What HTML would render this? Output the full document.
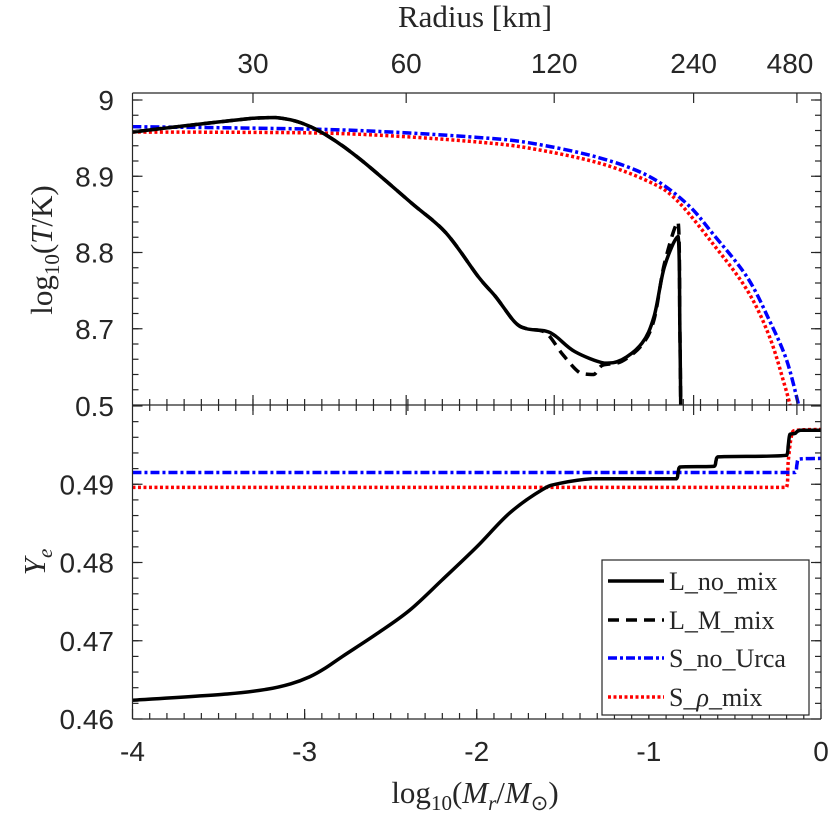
<!DOCTYPE html>
<html><head><meta charset="utf-8"><style>
body{margin:0;background:#fff}
svg{display:block}
.tk{font-family:"Liberation Sans",sans-serif;font-size:28px;fill:#262626}
.sf{font-family:"Liberation Serif",serif;fill:#262626}
</style></head><body>
<svg id="chart" width="830" height="814" xmlns="http://www.w3.org/2000/svg">
<g id="g-top"></g>
<g id="g-bot"></g>
<g id="g-axes"></g>
<text class="sf" x="475" y="27" font-size="31" text-anchor="middle">Radius [km]</text>
<text class="sf" x="475" y="803" font-size="31" text-anchor="middle">log<tspan font-size="21" dy="7">10</tspan><tspan dy="-7">(</tspan><tspan font-style="italic">M</tspan><tspan font-style="italic" font-size="21" dy="7">r</tspan><tspan dy="-7">/</tspan><tspan font-style="italic">M</tspan><tspan font-size="21" dy="7">⊙</tspan><tspan dy="-7">)</tspan></text>
<text class="sf" transform="translate(52,250) rotate(-90)" font-size="31" text-anchor="middle">log<tspan font-size="21" dy="7">10</tspan><tspan dy="-7">(</tspan><tspan font-style="italic">T</tspan><tspan>/K)</tspan></text>
<text class="sf" transform="translate(45,562) rotate(-90)" font-size="31" text-anchor="middle"><tspan font-style="italic">Y</tspan><tspan font-style="italic" font-size="21" dy="7">e</tspan></text>
<g>
<rect x="602" y="560" width="207" height="155" fill="#fff" stroke="#262626" stroke-width="1.2"/>
<g><line x1="608" y1="581" x2="664" y2="581" stroke="#000" stroke-width="3.5"/><text class="sf" x="669" y="590" font-size="26">L_no_mix</text></g>
<g><line x1="608" y1="620" x2="664" y2="620" stroke="#000" stroke-width="3.5" stroke-dasharray="11,7"/><text class="sf" x="669" y="629" font-size="26">L_M_mix</text></g>
<g><line x1="608" y1="658" x2="664" y2="658" stroke="#00f" stroke-width="3.5" stroke-dasharray="9,3,3,3"/><text class="sf" x="669" y="667" font-size="26">S_no_Urca</text></g>
<g><line x1="608" y1="697" x2="664" y2="697" stroke="#f00" stroke-width="3.5" stroke-dasharray="3,2.5"/><text class="sf" x="669" y="706" font-size="26">S_<tspan font-style="italic">ρ</tspan>_mix</text></g>
</g>
</svg>
<script>
const tLnoX=[-4,-3.74,-3.3,-3.17,-3.02,-2.86,-2.67,-2.38,-2.18,-1.99,-1.89,-1.78,-1.71,-1.6,-1.54,-1.43,-1.26,-1.16,-1.04,-0.97,-0.91,-0.83,-0.82,-0.815];
const tLnoY=[8.958,8.965,8.976,8.977,8.970,8.952,8.921,8.865,8.826,8.768,8.742,8.709,8.700,8.697,8.69,8.67,8.655,8.659,8.681,8.716,8.781,8.821,8.70,8.60];
const tLmX=[-4,-3.74,-3.3,-3.17,-3.02,-2.86,-2.67,-2.38,-2.18,-1.99,-1.89,-1.78,-1.71,-1.6,-1.5,-1.4,-1.32,-1.27,-1.16,-1.04,-0.97,-0.91,-0.83,-0.82,-0.815];
const tLmY=[8.958,8.965,8.976,8.977,8.970,8.952,8.921,8.865,8.826,8.768,8.742,8.709,8.700,8.695,8.666,8.642,8.640,8.652,8.657,8.679,8.712,8.785,8.840,8.70,8.60];
const tSuX=[-4,-3,-2.5,-2,-1.7,-1.3,-1.0,-0.78,-0.63,-0.43,-0.3,-0.2,-0.13];
const tSuY=[8.965,8.962,8.958,8.951,8.944,8.925,8.900,8.864,8.825,8.768,8.711,8.659,8.60];
const tSrX=[-4,-3,-2.5,-2,-1.7,-1.3,-1.0,-0.84,-0.63,-0.43,-0.3,-0.21,-0.18];
const tSrY=[8.958,8.957,8.953,8.945,8.937,8.918,8.893,8.869,8.812,8.751,8.69,8.625,8.60];
const yeLX=[-4,-3.45,-3.22,-3.08,-2.97,-2.88,-2.78,-2.58,-2.39,-2.2,-2.0,-1.81,-1.62,-1.52,-1.33,-1.1,-0.84,-0.83,-0.82,-0.62,-0.61,-0.6,-0.2,-0.19,-0.18,-0.15,-0.12,0];
const yeLY=[0.4624,0.4632,0.4638,0.4645,0.4654,0.4665,0.4680,0.4709,0.4739,0.4778,0.4820,0.4863,0.4893,0.4901,0.4907,0.4907,0.4907,0.4915,0.4922,0.4923,0.4930,0.4935,0.4937,0.4950,0.4964,0.4965,0.4969,0.4969];
const yeSuX=[-4,-0.15,-0.14,-0.13,0];
const yeSuY=[0.4915,0.4915,0.4925,0.4932,0.4933];
const yeSrX=[-4,-0.2,-0.19,-0.17,-0.14,0];
const yeSrY=[0.4896,0.4896,0.4930,0.4963,0.4969,0.4970];
const xTicks=[-4,-3,-2,-1,0];
const tTicks=[9,8.9,8.8,8.7];
const yeTicks=[0.5,0.49,0.48,0.47,0.46];
const rTicks=[30,60,120,240,480];
const rTickX=[-3.3,-2.41,-1.55,-0.74,-0.14];

const L=132.5,R=821,T0=93,MID=405,B=719;
const sx=v=>L+(v+4)*(R-L)/4;
const sT=v=>100+(9-v)*762.5;
const sY=v=>406+(0.5-v)*7825;
const NS='http://www.w3.org/2000/svg';
function mk(tag,parent){const e=document.createElementNS(NS,tag);document.getElementById(parent).appendChild(e);return e;}
function smoothPath(pts){
  let d='M'+pts[0][0]+','+pts[0][1];
  const cl=(v,a,b)=>Math.min(Math.max(a,b),Math.max(Math.min(a,b),v));
  for(let i=0;i<pts.length-1;i++){
    const p0=pts[Math.max(0,i-1)],p1=pts[i],p2=pts[i+1],p3=pts[Math.min(pts.length-1,i+2)];
    let c1x=p1[0]+(p2[0]-p0[0])/6,c1y=p1[1]+(p2[1]-p0[1])/6;
    let c2x=p2[0]-(p3[0]-p1[0])/6,c2y=p2[1]-(p3[1]-p1[1])/6;
    c1x=cl(c1x,p1[0],p2[0]);c2x=cl(c2x,p1[0],p2[0]);
    c1y=cl(c1y,p1[1],p2[1]);c2y=cl(c2y,p1[1],p2[1]);
    d+=' C'+c1x+','+c1y+' '+c2x+','+c2y+' '+p2[0]+','+p2[1];
  }
  return d;
}
function line(xs,ys,sy,parent,color,dash,name,clipTop,clipBot){
  const p=mk('path',parent);
  
  
  const pts=xs.map((x,i)=>[sx(x),Math.min(clipBot,Math.max(clipTop,sy(ys[i])))]);
  p.setAttribute('d',smoothPath(pts));
  p.setAttribute('fill','none');p.setAttribute('stroke',color);p.setAttribute('stroke-width','3.5');
  p.setAttribute('stroke-linejoin','round');
  if(dash)p.setAttribute('stroke-dasharray',dash);
}
line(tSrX,tSrY,sT,'g-top','#f00','3,2.5','series-s-rho-mix-temp',T0,MID);
line(tSuX,tSuY,sT,'g-top','#00f','9,3,3,3','series-s-no-urca-temp',T0,MID);
line(tLmX,tLmY,sT,'g-top','#000','11,7','series-l-m-mix-temp',T0,MID);
line(tLnoX,tLnoY,sT,'g-top','#000',null,'series-l-no-mix-temp',T0,MID);
line(yeSrX,yeSrY,sY,'g-bot','#f00','3,2.5','series-s-rho-mix-ye',MID,B);
line(yeSuX,yeSuY,sY,'g-bot','#00f','9,3,3,3','series-s-no-urca-ye',MID,B);
line(yeLX,yeLY,sY,'g-bot','#000',null,'series-l-no-mix-ye',MID,B);

function seg(x1,y1,x2,y2,name){const l=mk('line','g-axes');
  
  
  l.setAttribute('x1',x1);l.setAttribute('y1',y1);l.setAttribute('x2',x2);l.setAttribute('y2',y2);
  l.setAttribute('stroke','#262626');l.setAttribute('stroke-width','1.2');}
function txt(x,y,s,anchor,name){const t=mk('text','g-axes');
  
  
  t.setAttribute('class','tk');t.setAttribute('x',x);t.setAttribute('y',y);t.setAttribute('text-anchor',anchor);t.textContent=s;}
seg(L,T0,R,T0,'top-panel-top-edge');seg(L,MID,R,MID,'panel-divider');seg(L,B,R,B,'x-axis-line');
seg(L,T0,L,B,'left-axis-line');seg(R,T0,R,B,'right-axis-line');
for(let i=1;i<40;i++){const x=sx(-4+i*0.1);
  seg(x,B,x,B-6,'x-minor-tick');seg(x,MID,x,MID-6,'x-minor-tick');seg(x,MID,x,MID+6,'x-minor-tick');}
xTicks.forEach(v=>{const x=sx(v);seg(x,B,x,B-10,'x-major-tick');txt(x,761,String(v),'middle','x-tick-label');});
rTicks.forEach((r,i)=>{const x=sx(rTickX[i]);seg(x,T0,x,T0+10,'radius-tick');seg(x,MID,x,MID+10,'radius-tick');seg(x,MID,x,MID-10,'radius-tick');
  txt(Math.min(x,790),73,String(r),'middle','radius-tick-label');});
for(let v=8.62;v<9.03;v+=0.02){const y=sT(v);if(y<T0)continue;seg(L,y,L+6,y,'y-minor-tick');seg(R,y,R-6,y,'y-minor-tick');}
tTicks.forEach(v=>{const y=sT(v);seg(L,y,L+10,y,'y-major-tick');seg(R,y,R-10,y,'y-major-tick');txt(114,y+10,String(v),'end','temp-tick-label');});
for(let v=0.462;v<0.5;v+=0.002){const y=sY(v);seg(L,y,L+6,y,'y-minor-tick');seg(R,y,R-6,y,'y-minor-tick');}
yeTicks.forEach(v=>{const y=sY(v);seg(L,y,L+10,y,'y-major-tick');seg(R,y,R-10,y,'y-major-tick');txt(114,y+10,String(v),'end','ye-tick-label');});
</script>
</body></html>
